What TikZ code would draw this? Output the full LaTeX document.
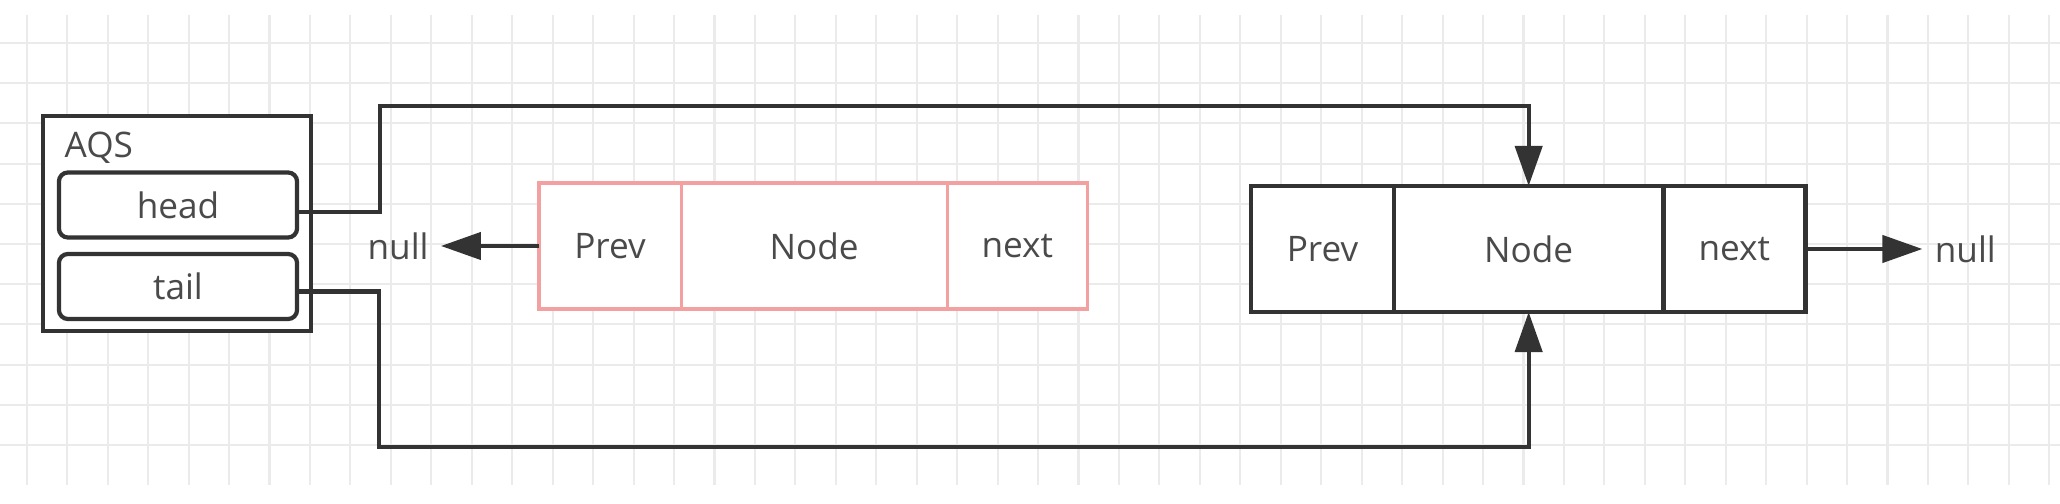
\documentclass[tikz,border=0pt]{standalone}
\usepackage{fontspec}
\setmainfont{Open Sans}
\usetikzlibrary{arrows.meta, positioning}
\definecolor{ink}{HTML}{333333}
\definecolor{labelgray}{HTML}{4A4A4A}
\definecolor{softred}{HTML}{F2A0A0}
\definecolor{gridline}{HTML}{EBEBEB}
\tikzstyle{cell_node} = [rectangle, draw=ink, fill=white, line width=1.3pt, minimum height=1.26cm, outer sep=0pt, inner sep=0pt, text=labelgray, font=\fontsize{10}{12}\selectfont]
\tikzstyle{red_cell} = [cell_node, draw=softred, line width=0.9pt]
\tikzstyle{field_node} = [rectangle, rounded corners=0.09cm, draw=ink, fill=white, line width=1.2pt, minimum width=2.38cm, minimum height=0.65cm, outer sep=0pt, text=labelgray, font=\fontsize{10}{12}\selectfont]
\tikzstyle{ptr_arrow} = [draw=ink, line width=1.2pt, -{Triangle[length=0.4cm, width=0.27cm]}]
\tikzstyle{null_label} = [text=labelgray, font=\fontsize{10}{12}\selectfont]
\tikzstyle{grid_line} = [draw=gridline, line width=0.6pt]

\begin{document}
\begin{tikzpicture}[x=0.01cm, y=-0.01cm]
\fill[white] (0,0) rectangle (2060,504);
\useasboundingbox (0,0) rectangle (2060,504);
\foreach \gx in {0,...,50}
    \draw[grid_line] (26.8+40.45*\gx,15) -- (26.8+40.45*\gx,485);
\foreach \gy in {0,...,10}
    \draw[grid_line] (0,43+40.2*\gy) -- (2060,43+40.2*\gy);

% AQS
\node (aqs_box) [rectangle, draw=ink, fill=white, line width=1.3pt, minimum width=2.68cm, minimum height=2.15cm, outer sep=0pt] at (177,223.5) {};
\node (aqs_label) [null_label, anchor=base west, inner sep=0pt] at (64,158) {AQS};
\node (head) [field_node] at (178,205) {head};
\node (tail) [field_node] at (178,286.5) {tail};

% red node
\node (prev_a) [red_cell, minimum width=1.42cm, anchor=west] at (539,246) {Prev};
\node (node_a) [red_cell, minimum width=2.66cm, right=0pt of prev_a] {Node};
\node (next_a) [red_cell, minimum width=1.40cm, right=0pt of node_a] {next};
\node (null_a) [null_label, left=0.98cm of prev_a] {null};

% black node
\node (prev_b) [cell_node, minimum width=1.43cm, anchor=west] at (1251,249) {Prev};
\node (node_b) [cell_node, minimum width=2.69cm, right=0pt of prev_b] {Node};
\node (next_b) [cell_node, minimum width=1.42cm, right=0pt of node_b] {next};
\node (null_b) [null_label, right=1.17cm of next_b] {null};

\coordinate (head_turn) at (380,106);
\coordinate (tail_turn) at (379,447);

\draw[ptr_arrow] (prev_a) -- (null_a);
\draw[ptr_arrow] (next_b) -- (null_b);
\draw[ptr_arrow] ([yshift=-0.07cm]head.east) -| (head_turn) -| (node_b.north);
\draw[ptr_arrow] ([yshift=-0.05cm]tail.east) -| (tail_turn) -| (node_b.south);
\end{tikzpicture}
\end{document}
